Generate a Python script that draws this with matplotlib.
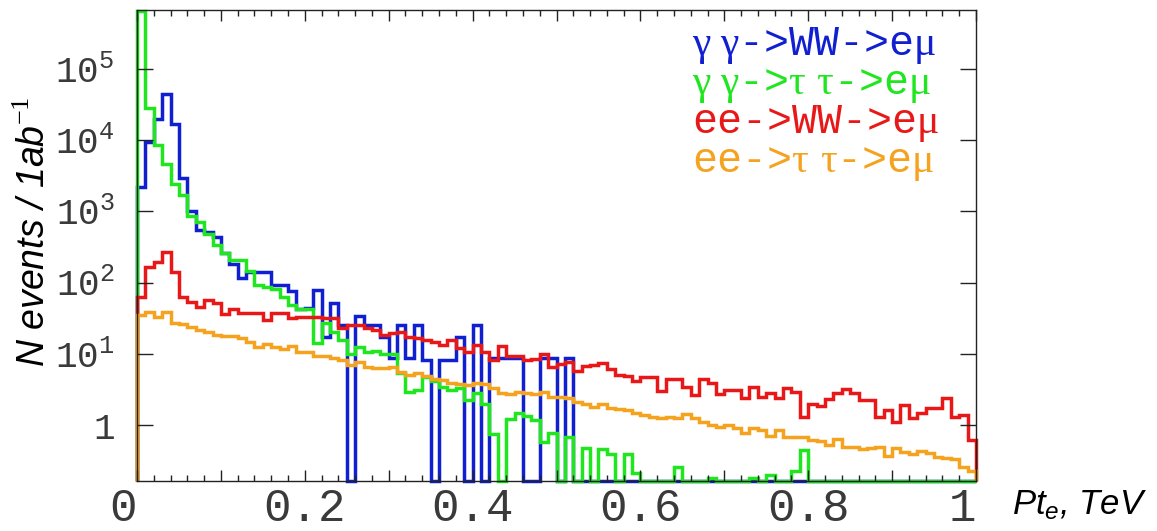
import numpy as np
import matplotlib.pyplot as plt
from matplotlib.ticker import FixedLocator, MultipleLocator, NullLocator, FuncFormatter

plt.rcParams['mathtext.fontset'] = 'custom'
plt.rcParams['mathtext.it'] = 'Liberation Sans:italic'
plt.rcParams['mathtext.rm'] = 'Liberation Serif'

# 100 bins de 0.01 TeV
edges = np.linspace(0, 1, 101)

# gamma gamma -> WW -> e mu
gg_ww = [2200, 9500, 20000, 45000, 17000, 2900, 1000, 540, 510, 430,
         257, 182, 117, 142, 142, 142, 93, 93, 76, 43,
         43.6, 79, 17.4, 51, 25, 0, 34, 25, 25, 17.4,
         8.6, 25, 8.6, 25, 8.2, 0, 8.2, 8.2, 17.4, 0,
         25, 0, 8.6, 8.6, 8.6, 8.6, 0, 0, 8.6, 8.6,
         0, 8.6, 0, 0, 0, 0, 0, 0, 0, 0,
         0, 0, 0, 0, 0, 0, 0, 0, 0, 0,
         0, 0, 0, 0, 0, 0, 0, 0, 0, 0,
         0, 0, 0, 0, 0, 0, 0, 0, 0, 0,
         0, 0, 0, 0, 0, 0, 0, 0, 0, 0]

# gamma gamma -> tau tau -> e mu
gg_tt = [640000, 28000, 8500, 4600, 2400, 1700, 870, 700, 480, 340,
         257, 210, 210, 145, 93, 88, 80, 63, 48, 43,
         42, 14, 27, 20, 15.6, 10, 12.6, 10.5, 11, 10,
         10, 5.3, 2.9, 3.1, 4.8, 4.1, 3.45, 3.1, 3.3, 2.24,
         2.8, 2.0, 0.74, 0, 1.2, 1.46, 1.32, 1.18, 0.58, 0.77,
         0, 0.69, 0, 0.47, 0, 0.46, 0.39, 0, 0.39, 0.21,
         0, 0, 0, 0, 0.26, 0, 0, 0, 0.18, 0,
         0, 0, 0, 0.18, 0, 0.2, 0, 0, 0.23, 0.45,
         0, 0, 0, 0, 0, 0, 0, 0, 0, 0,
         0, 0, 0, 0, 0, 0, 0, 0, 0, 0]

# ee -> WW -> e mu
ee_ww = [63, 167, 196, 272, 143, 63, 54, 45, 57, 52,
         36, 43, 37, 37, 37, 30, 37, 37, 31.5, 33,
         33, 33, 31.5, 31.5, 23, 25, 25, 23, 21.6, 18.4,
         19.4, 20.4, 17.4, 16.5, 15.6, 14.8, 13.3, 15.6, 11.9, 10.5,
         13.5, 10.7, 8.2, 12.9, 9.3, 9.3, 8.2, 8.4, 10, 6.6,
         7.2, 7.8, 5.8, 6.7, 6.9, 7.4, 6.1, 5.0, 4.85, 4.2,
         4.8, 4.8, 3.0, 4.5, 4.5, 3.45, 2.64, 4.4, 3.85, 2.72,
         3.1, 3.1, 2.37, 3.45, 2.5, 2.8, 2.37, 3.27, 2.94, 1.28,
         1.95, 1.85, 2.29, 2.8, 3.17, 2.8, 2.25, 2.25, 1.31, 1.62,
         1.1, 1.9, 1.24, 1.5, 1.71, 1.71, 2.42, 1.31, 1.38, 0.62]

# ee -> tau tau -> e mu
ee_tt = [35, 39, 33, 39, 27, 26, 24, 21.6, 20, 18.4,
         18, 18, 16.5, 14.8, 12.6, 13.8, 12.6, 11.6, 13, 10.7,
         10.7, 9.3, 9.3, 8.6, 8.2, 6.9, 7.8, 6.6, 6.25, 6.25,
         6.6, 5.6, 5.0, 5.3, 4.9, 4.5, 4.3, 3.9, 3.8, 3.6,
         3.9, 3.8, 3.27, 2.85, 2.72, 2.94, 2.85, 2.72, 2.94, 2.5,
         2.5, 2.37, 2.13, 2.0, 1.81, 1.97, 1.75, 1.68, 1.64, 1.5,
         1.38, 1.31, 1.24, 1.31, 1.24, 1.43, 1.24, 1.11, 1.0, 0.95,
         1.0, 0.9, 0.78, 0.9, 0.85, 0.7, 0.85, 0.69, 0.69, 0.67,
         0.62, 0.6, 0.52, 0.64, 0.5, 0.5, 0.46, 0.47, 0.5, 0.37,
         0.48, 0.42, 0.39, 0.43, 0.4, 0.36, 0.34, 0.33, 0.26, 0.23]

# griegas en fuente serif (como el Symbol de ROOT), resto monoespaciado
etiquetas = [r'$\mathrm{\gamma\;\gamma}$->WW->e$\mathrm{\mu}$',
             r'$\mathrm{\gamma\;\gamma}$->$\mathrm{\tau\ \tau}$->e$\mathrm{\mu}$',
             r'ee->WW->e$\mathrm{\mu}$',
             r'ee->$\mathrm{\tau\ \tau}$->e$\mathrm{\mu}$']
colores = ['#1020d0', '#20e620', '#e81818', '#f5a21e']

ymin, ymax = 0.164, 6.7e5

fig = plt.figure(figsize=(11.57, 5.31), dpi=100)
ax = fig.add_axes([137/1157, 1-481/531, (976-137)/1157, (481-10)/531])

# orden de dibujo: azul, verde, rojo, naranja
for datos, col in [(gg_ww, colores[0]), (gg_tt, colores[1]),
                   (ee_ww, colores[2]), (ee_tt, colores[3])]:
    v = np.array(datos, dtype=float)
    v[v <= 0] = ymin  # bins vacios sobre el eje
    ax.stairs(v, edges, baseline=ymin, color=col, lw=2.5, clip_on=False)

ax.set_yscale('log')
ax.set_xlim(0, 1)
ax.set_ylim(ymin, ymax)

ax.yaxis.set_major_locator(FixedLocator([1, 10, 100, 1e3, 1e4, 1e5]))
ax.yaxis.set_minor_locator(NullLocator())
ax.yaxis.set_major_formatter(FuncFormatter(
    lambda v, p: '1' if abs(v-1) < 1e-9 else r'$\mathregular{10^{%d}}$' % round(np.log10(v))))

ax.xaxis.set_major_locator(MultipleLocator(0.1))
ax.xaxis.set_minor_locator(MultipleLocator(0.02))

def fmt_x(v, p):
    k = int(round(v*10))
    if k % 2:
        return ''
    if k == 0:
        return '0 '
    if k == 10:
        return '1 '
    return '%.1f' % v

ax.xaxis.set_major_formatter(FuncFormatter(fmt_x))

ax.tick_params(which='both', direction='in', top=True, right=True, width=1, color='#222222')
ax.tick_params(axis='y', which='major', length=11.5, pad=16, labelsize=26,
               labelcolor='#3a3a3a', labelfontfamily='Liberation Mono')
ax.tick_params(axis='x', which='major', length=8, pad=4, labelsize=33,
               labelcolor='#3a3a3a', labelfontfamily='Liberation Mono')
ax.tick_params(axis='x', which='minor', length=4.5)
for s in ax.spines.values():
    s.set_linewidth(1.0)
    s.set_color('#222222')

fig.text(35/1157, 1-232/531, 'N events / 1ab$^{-1}$', rotation=90,
         family='Liberation Sans', style='italic', fontsize=27,
         ha='center', va='center')
fig.text(1012/1157, 1-514/531, '$Pt_e$, TeV', family='Liberation Sans',
         style='italic', fontsize=25, ha='left', va='baseline')

# leyenda como texto coloreado
ys = [45, 85, 124, 163]
for txt, col, y in zip(etiquetas, colores, ys):
    fig.text(692/1157, 1-y/531, txt, color=col, family='Liberation Mono',
             fontsize=30, ha='left', va='center')

fig.savefig('out.png', dpi=100)
